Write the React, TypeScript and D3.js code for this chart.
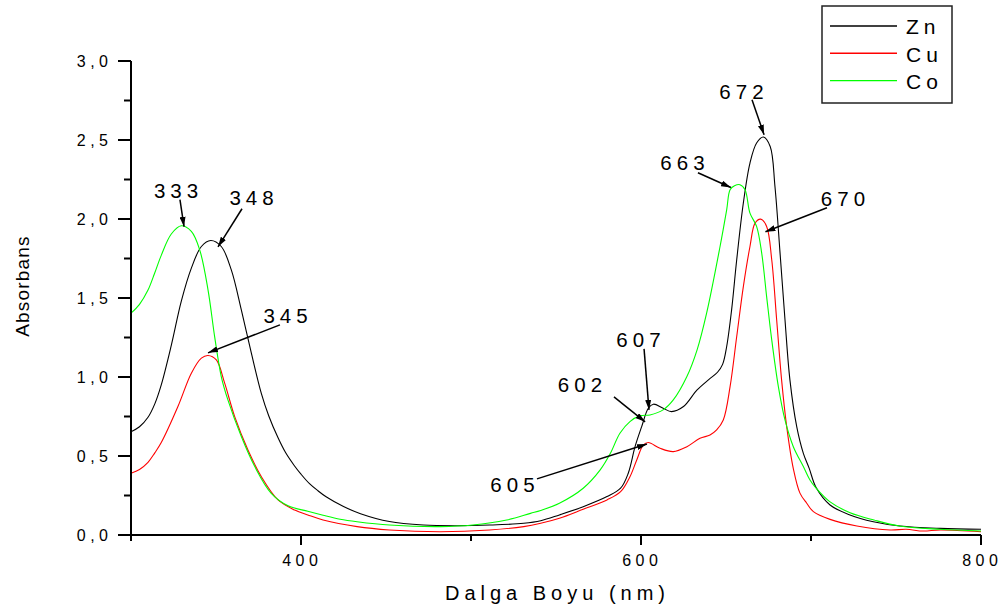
import React from "react";
import * as d3 from "d3";

// ---- data (wavelength nm, absorbance) ----
const znWl = [300, 305, 310, 314, 317.8, 323.7, 329.6, 335.5, 341.4, 346.9, 353.1, 359, 364.9, 370.8, 376.7, 381, 386.5, 391, 396, 400, 405, 410, 415, 425, 435, 452, 472, 492, 511, 531, 541, 552, 566, 580, 588, 592.5, 596.5, 600.4, 604.3, 607.3, 613, 618, 625, 633, 640, 645, 648, 650.4, 653.3, 656.3, 660.2, 664.1, 668, 672, 676, 678.8, 681.8, 684.7, 687.6, 691.6, 695.5, 699, 703, 711.2, 722.9, 736.7, 752.4, 776, 800];
const znAbs = [0.654, 0.685, 0.745, 0.83, 0.95, 1.2, 1.48, 1.689, 1.826, 1.864, 1.826, 1.678, 1.425, 1.151, 0.895, 0.755, 0.615, 0.52, 0.44, 0.385, 0.325, 0.28, 0.24, 0.18, 0.135, 0.085, 0.063, 0.059, 0.063, 0.074, 0.09, 0.127, 0.179, 0.243, 0.296, 0.391, 0.559, 0.686, 0.802, 0.828, 0.802, 0.781, 0.813, 0.918, 0.985, 1.03, 1.08, 1.193, 1.425, 1.742, 2.101, 2.354, 2.481, 2.519, 2.459, 2.206, 1.784, 1.362, 0.982, 0.686, 0.517, 0.42, 0.3, 0.19, 0.127, 0.084, 0.057, 0.042, 0.036];

const cuWl = [300, 305, 310, 314, 317.8, 327.6, 335.5, 341.4, 345.3, 350.2, 355.1, 361, 368.8, 376.7, 386.5, 396.3, 404, 413, 433, 452, 482, 511, 531, 541, 552, 566, 580, 588, 593.5, 597.5, 601.4, 604.3, 611.2, 619, 627, 634.7, 640.6, 644.5, 648.4, 652.4, 656.3, 660.2, 664.1, 667.1, 670.4, 673.9, 676.9, 679.8, 682.7, 685.7, 689.6, 693.5, 697.5, 701.4, 711.2, 727, 746.5, 756, 766, 776, 800];
const cuAbs = [0.391, 0.415, 0.46, 0.52, 0.585, 0.813, 1.024, 1.119, 1.136, 1.108, 0.961, 0.749, 0.538, 0.369, 0.222, 0.158, 0.127, 0.095, 0.053, 0.032, 0.021, 0.032, 0.053, 0.074, 0.106, 0.163, 0.222, 0.274, 0.369, 0.475, 0.57, 0.585, 0.549, 0.528, 0.559, 0.612, 0.633, 0.665, 0.728, 0.939, 1.256, 1.572, 1.826, 1.974, 1.999, 1.953, 1.742, 1.362, 0.982, 0.686, 0.42, 0.265, 0.201, 0.148, 0.099, 0.057, 0.032, 0.036, 0.025, 0.032, 0.021];

const coWl = [300, 305, 310, 314, 317.8, 323.7, 329.6, 335.5, 340.4, 345.3, 349.2, 353.1, 357, 364.9, 372.8, 382.5, 392.4, 404, 413, 423, 433, 452, 482, 501, 521, 535, 541, 552, 566, 576, 582, 587.6, 593.5, 599.4, 605.3, 613, 619, 627, 633, 638.6, 646.5, 650.4, 652.4, 655, 658.2, 661.2, 664.1, 668, 671, 673.9, 676.9, 680.8, 684.7, 689.6, 695.5, 699.4, 703, 711, 723, 737, 752, 776, 800];
const coAbs = [1.404, 1.46, 1.55, 1.66, 1.77, 1.905, 1.957, 1.921, 1.805, 1.552, 1.256, 1.003, 0.855, 0.623, 0.433, 0.264, 0.185, 0.15, 0.125, 0.1, 0.084, 0.063, 0.053, 0.063, 0.095, 0.137, 0.155, 0.201, 0.296, 0.412, 0.517, 0.644, 0.718, 0.754, 0.76, 0.792, 0.855, 1.003, 1.172, 1.404, 1.826, 2.058, 2.185, 2.21, 2.217, 2.185, 2.037, 1.953, 1.784, 1.509, 1.235, 0.939, 0.728, 0.559, 0.433, 0.348, 0.296, 0.211, 0.141, 0.095, 0.057, 0.036, 0.025];

const seriesNames = ["Zn", "Cu", "Co"];
const seriesColors = ["#000000", "#ff0000", "#00ff00"];

const xMajorTicks = [400, 600, 800];
const xMinorTicks = [300, 500, 700];
const yMajorTicks = [0, 0.5, 1, 1.5, 2, 2.5, 3];
const yMinorTicks = [0.25, 0.75, 1.25, 1.75, 2.25, 2.75];

// annotations: label, text position (nm, abs), arrow start, arrow tip
const annLabels = ["333", "348", "345", "607", "602", "605", "663", "672", "670"];
const annText = [[326.5, 2.134], [370.9, 2.09], [390.9, 1.343], [598.5, 1.191], [564.1, 0.906], [524.4, 0.272], [624.4, 2.312], [659.1, 2.761], [718.8, 2.084]];
const annFrom = [[328.8, 2.122], [365.3, 2.065], [387.6, 1.33], [601.8, 1.178], [584.1, 0.874], [538.8, 0.355], [633.5, 2.293], [665.3, 2.755], [709.4, 2.071]];
const annTo = [[331.2, 1.951], [351.2, 1.824], [345.3, 1.153], [604.7, 0.792], [602.4, 0.716], [603.5, 0.576], [652.9, 2.199], [672.4, 2.533], [673.2, 1.919]];

export default function App() {
  const W = 1004, H = 615;
  const x = d3.scaleLinear().domain([300, 800]).range([131, 981]);
  const y = d3.scaleLinear().domain([0, 3]).range([535, 61]);
  const line = d3
    .line<[number, number]>()
    .x((d) => x(d[0]))
    .y((d) => y(d[1]))
    .curve(d3.curveCatmullRom.alpha(0.5));

  const series = [
    d3.zip(znWl, znAbs) as [number, number][],
    d3.zip(cuWl, cuAbs) as [number, number][],
    d3.zip(coWl, coAbs) as [number, number][],
  ];

  const font = "'Liberation Sans', Arial, sans-serif";
  const tickLS = 4.5;
  const annLS = 5;

  return (
    <svg
      width={W}
      height={H}
      style={{ position: "absolute", left: 0, top: 0, background: "#fff" }}
      fontFamily={font}
    >
      <defs>
        <marker
          id="ah"
          viewBox="0 0 10 6"
          refX="10"
          refY="3"
          markerWidth="10"
          markerHeight="6"
          markerUnits="userSpaceOnUse"
          orient="auto"
        >
          <path d="M0,0 L10,3 L0,6 Z" fill="#000" />
        </marker>
      </defs>
      <rect width={W} height={H} fill="#fff" />

      {/* curves */}
      {series.map((s, i) => (
        <path key={i} d={line(s) ?? ""} fill="none" stroke={seriesColors[i]} strokeWidth={1.1} />
      ))}

      {/* axes */}
      <line x1={131} y1={y(3)} x2={131} y2={540} stroke="#000" strokeWidth={2} />
      <line x1={130} y1={535} x2={x(800)} y2={535} stroke="#000" strokeWidth={2} />
      {yMajorTicks.map((t) => (
        <g key={"ym" + t}>
          <line x1={118} x2={131} y1={y(t)} y2={y(t)} stroke="#000" strokeWidth={2} />
          <text
            x={108 + tickLS}
            y={y(t) + 6}
            textAnchor="end"
            fontSize={16}
            letterSpacing={tickLS}
            fill="#000"
          >
            {d3.format(".1f")(t).replace(".", ",")}
          </text>
        </g>
      ))}
      {yMinorTicks.map((t) => (
        <line key={"yn" + t} x1={124} x2={131} y1={y(t)} y2={y(t)} stroke="#000" strokeWidth={2} />
      ))}
      {xMajorTicks.map((t) => (
        <g key={"xm" + t}>
          <line x1={x(t)} x2={x(t)} y1={535} y2={545} stroke="#000" strokeWidth={2} />
          <text
            x={x(t) - 1 + tickLS / 2}
            y={566}
            textAnchor="middle"
            fontSize={16}
            letterSpacing={tickLS}
            fill="#000"
          >
            {t}
          </text>
        </g>
      ))}
      {xMinorTicks.map((t) => (
        <line key={"xn" + t} x1={x(t)} x2={x(t)} y1={535} y2={541} stroke="#000" strokeWidth={2} />
      ))}

      {/* axis titles */}
      <text x={555 + 2.5} y={600} textAnchor="middle" fontSize={20} letterSpacing={5} fill="#000">
        Dalga Boyu (nm)
      </text>
      <text
        transform="translate(29,286) rotate(-90)"
        textAnchor="middle"
        fontSize={19}
        letterSpacing={1.2}
        fill="#000"
      >
        Absorbans
      </text>

      {/* annotations */}
      {annLabels.map((lab, i) => (
        <g key={"a" + i}>
          <line
            x1={x(annFrom[i][0])}
            y1={y(annFrom[i][1])}
            x2={x(annTo[i][0])}
            y2={y(annTo[i][1])}
            stroke="#000"
            strokeWidth={1.5}
            markerEnd="url(#ah)"
          />
          <text
            x={x(annText[i][0]) + annLS / 2}
            y={y(annText[i][1])}
            textAnchor="middle"
            fontSize={20.5}
            letterSpacing={annLS}
            fill="#000"
          >
            {lab}
          </text>
        </g>
      ))}

      {/* legend */}
      <rect x={822} y={6} width={130} height={97} fill="#fff" stroke="#222" strokeWidth={1.5} />
      {seriesNames.map((n, i) => (
        <g key={"l" + n}>
          <line
            x1={830}
            x2={897}
            y1={26 + i * 27.3}
            y2={26 + i * 27.3}
            stroke={seriesColors[i]}
            strokeWidth={1.4}
          />
          <text x={906} y={34 + i * 27.5} fontSize={21} letterSpacing={5} fill="#000">
            {n}
          </text>
        </g>
      ))}
    </svg>
  );
}
